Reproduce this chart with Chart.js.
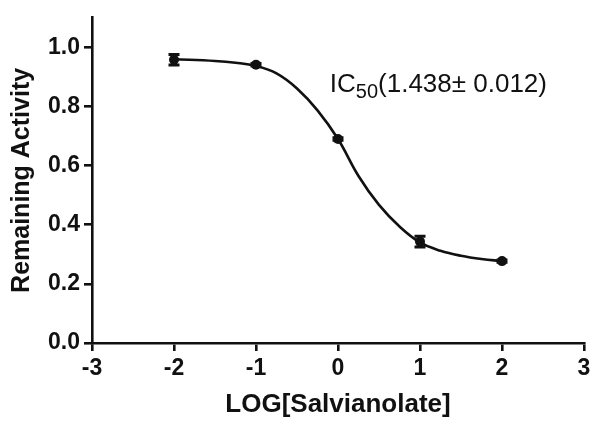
<!DOCTYPE html>
<html>
<head>
<meta charset="utf-8">
<script src="https://cdn.jsdelivr.net/npm/chart.js@4/dist/chart.umd.min.js"></script>
<style>
  html, body { margin: 0; padding: 0; background: #fff; }
  #wrap { width: 600px; height: 428px; }
</style>
</head>
<body>
<div id="wrap"><canvas id="c" width="600" height="428"></canvas></div>
<script>
// ---- data ----
const logConc = [-2, -1, 0, 1, 2];
const remainingActivity = [0.958, 0.941, 0.690, 0.343, 0.277];
const activityError = [0.018, 0.004, 0.004, 0.018, 0.004];

// fitted curve
const fitLogConc = [-2, -1.5, -1.25, -1, -0.75, -0.5, -0.25, 0, 0.25, 0.5, 0.75, 1, 1.25, 1.5, 1.75, 2];
const fitActivity = [0.960, 0.954, 0.948, 0.937, 0.912, 0.861, 0.787, 0.690, 0.565, 0.467, 0.394, 0.340, 0.312, 0.295, 0.284, 0.277];

const xTicks = [-3, -2, -1, 0, 1, 2, 3];
const yTicks = [0.0, 0.2, 0.4, 0.6, 0.8, 1.0];
const yTickLabels = ['0.0', '0.2', '0.4', '0.6', '0.8', '1.0'];

const xTitle = 'LOG[Salvianolate]';
const yTitle = 'Remaining Activity';
const annotationMain = 'IC';
const annotationSub = '50';
const annotationRest = '(1.438\u00B1 0.012)';

const INK = '#111111';
const FONT = "'Liberation Sans', Arial, sans-serif";

const errorBarPlugin = {
  id: 'errorBars',
  afterDatasetsDraw(chart) {
    const ctx = chart.ctx;
    const xs = chart.scales.x, ys = chart.scales.y;
    ctx.save();
    ctx.strokeStyle = INK;
    ctx.lineWidth = 3;
    logConc.forEach((x, i) => {
      const px = xs.getPixelForValue(x);
      const top = ys.getPixelForValue(remainingActivity[i] + activityError[i]);
      const bot = ys.getPixelForValue(remainingActivity[i] - activityError[i]);
      ctx.beginPath();
      ctx.moveTo(px, top); ctx.lineTo(px, bot);
      ctx.moveTo(px - 5.5, top); ctx.lineTo(px + 5.5, top);
      ctx.moveTo(px - 5.5, bot); ctx.lineTo(px + 5.5, bot);
      ctx.stroke();
    });
    ctx.restore();
  }
};

const annotationPlugin = {
  id: 'icLabel',
  afterDraw(chart) {
    const ctx = chart.ctx;
    const xs = chart.scales.x, ys = chart.scales.y;
    let x = xs.getPixelForValue(-0.1);
    const y = ys.getPixelForValue(0.85);
    ctx.save();
    ctx.fillStyle = INK;
    ctx.textBaseline = 'alphabetic';
    ctx.textAlign = 'left';
    ctx.font = '26px ' + FONT;
    ctx.fillText(annotationMain, x, y);
    x += ctx.measureText(annotationMain).width;
    ctx.font = '20px ' + FONT;
    ctx.fillText(annotationSub, x, y + 6);
    x += ctx.measureText(annotationSub).width;
    ctx.font = '26px ' + FONT;
    ctx.fillText(annotationRest, x, y);
    ctx.restore();
  }
};

new Chart(document.getElementById('c'), {
  type: 'scatter',
  data: {
    datasets: [
      {
        label: 'fit',
        data: fitLogConc.map((x, i) => ({ x: x, y: fitActivity[i] })),
        showLine: true,
        borderColor: INK,
        borderWidth: 2.6,
        pointRadius: 0,
        tension: 0.4,
        fill: false,
        order: 2
      },
      {
        label: 'Remaining Activity',
        data: logConc.map((x, i) => ({ x: x, y: remainingActivity[i] })),
        showLine: false,
        pointRadius: 5,
        pointBackgroundColor: INK,
        pointBorderColor: INK,
        pointBorderWidth: 0,
        order: 1
      }
    ]
  },
  options: {
    responsive: false,
    animation: false,
    layout: { padding: { top: 13, right: 16, left: 0, bottom: 0 } },
    plugins: {
      legend: { display: false },
      tooltip: { enabled: false }
    },
    scales: {
      x: {
        type: 'linear',
        min: -3, max: 3,
        afterBuildTicks(scale) { scale.ticks = xTicks.map(v => ({ value: v })); },
        afterFit(scale) { scale.height = 85; },
        border: { display: true, color: INK, width: 2.6 },
        grid: { display: true, drawOnChartArea: false, drawTicks: true, tickLength: 8, color: INK, lineWidth: 2.6 },
        ticks: {
          color: INK,
          padding: 4,
          font: { family: FONT, size: 23, weight: 'bold' },
          callback: (v) => String(v)
        },
        title: {
          display: true,
          text: xTitle,
          color: INK,
          font: { family: FONT, size: 26, weight: 'bold' },
          padding: { top: 4, bottom: 8 }
        }
      },
      y: {
        type: 'linear',
        min: 0, max: 1.1,
        afterBuildTicks(scale) { scale.ticks = yTicks.map(v => ({ value: v })); },
        afterFit(scale) { scale.width = 92; },
        border: { display: true, color: INK, width: 2.6 },
        grid: { display: true, drawOnChartArea: false, drawTicks: true, tickLength: 8, color: INK, lineWidth: 2.6 },
        ticks: {
          color: INK,
          padding: 4,
          font: { family: FONT, size: 23, weight: 'bold' },
          callback: (v) => {
            const i = yTicks.findIndex(t => Math.abs(t - v) < 1e-9);
            return i >= 0 ? yTickLabels[i] : '';
          }
        },
        title: {
          display: true,
          text: yTitle,
          color: INK,
          font: { family: FONT, size: 25, weight: 'bold' },
          padding: { top: 7, bottom: 4 }
        }
      }
    }
  },
  plugins: [errorBarPlugin, annotationPlugin]
});
</script>
</body>
</html>
